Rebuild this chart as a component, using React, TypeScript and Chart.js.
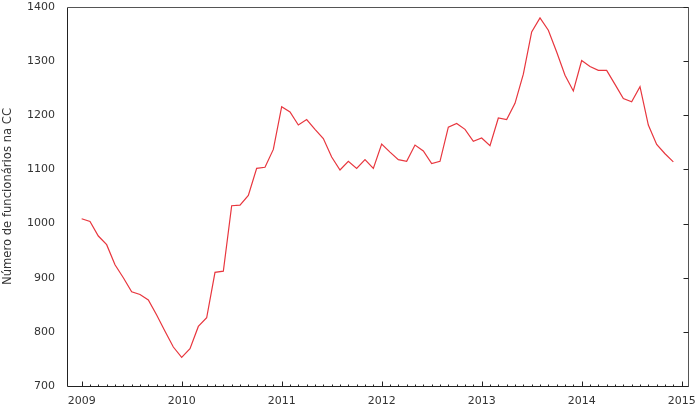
import React, { useEffect, useRef } from "react";
import { Chart, registerables } from "chart.js";

Chart.register(...registerables);

const years: string[] = ["2009", "2010", "2011", "2012", "2013", "2014", "2015"];
const values2009: number[] = [1009, 1004, 977, 961, 924, 900, 874, 869, 859, 831, 801, 772];
const values2010: number[] = [753, 769, 810, 826, 910, 912, 1033, 1034, 1052, 1102, 1104, 1137];
const values2011: number[] = [1216, 1206, 1182, 1192, 1174, 1157, 1123, 1099, 1115, 1102, 1118, 1102];
const values2012: number[] = [1147, 1132, 1118, 1115, 1145, 1134, 1111, 1115, 1178, 1185, 1174, 1152];
const values2013: number[] = [1158, 1144, 1195, 1192, 1222, 1276, 1354, 1380, 1357, 1317, 1274, 1245];
const values2014: number[] = [1301, 1290, 1283, 1283, 1257, 1231, 1225, 1253, 1182, 1146, 1129, 1114];
const yTicks: number[] = [700, 800, 900, 1000, 1100, 1200, 1300, 1400];
const yTitle = "Número de funcionários na CC";

const FONT = "'DejaVu Sans', Verdana, sans-serif";
const TEXT = "#333333";
const LINE = "#e8363e";

const framePlugin = {
  id: "frame",
  afterDatasetsDraw(chart: any) {
    const { ctx, chartArea } = chart;
    const xs = chart.scales.x;
    const ys = chart.scales.y;
    const l = Math.round(chartArea.left) + 0.5;
    const r = Math.round(chartArea.right) + 0.5;
    const t = Math.round(chartArea.top) + 0.5;
    const b = Math.round(chartArea.bottom) + 0.5;
    ctx.save();
    ctx.lineWidth = 1;
    ctx.strokeStyle = "#222222";
    ctx.beginPath();
    ctx.moveTo(l, t);
    ctx.lineTo(l, b);
    ctx.lineTo(r, b);
    ctx.stroke();
    ctx.strokeStyle = "#555555";
    ctx.beginPath();
    ctx.moveTo(l, t);
    ctx.lineTo(r, t);
    ctx.lineTo(r, b);
    ctx.stroke();
    ctx.strokeStyle = "#222222";
    ctx.beginPath();
    const total = (years.length - 1) * 12;
    for (let m = 0; m <= total; m++) {
      const px = Math.round(xs.getPixelForValue(m)) + 0.5;
      const len = m % 12 === 0 ? 5 : 2;
      ctx.moveTo(px, b);
      ctx.lineTo(px, b - len);
    }
    for (const v of yTicks) {
      const py = Math.round(ys.getPixelForValue(v)) + 0.5;
      ctx.moveTo(r, py);
      ctx.lineTo(r - 5, py);
    }
    ctx.stroke();
    ctx.restore();
  },
};

export default function App() {
  const ref = useRef<HTMLCanvasElement | null>(null);
  useEffect(() => {
    document.body.style.margin = "0";
    const all = [...values2009, ...values2010, ...values2011, ...values2012, ...values2013, ...values2014];
    const data = all.map((v, i) => ({ x: i, y: v }));
    const chart = new Chart(ref.current as HTMLCanvasElement, {
      type: "line",
      data: {
        datasets: [
          {
            data,
            borderColor: LINE,
            borderWidth: 1.2,
            pointRadius: 0,
            tension: 0,
            fill: false,
          },
        ],
      },
      options: {
        animation: false,
        responsive: false,
        layout: { padding: { top: 7, right: 12, left: 0, bottom: 0 } },
        plugins: { legend: { display: false }, tooltip: { enabled: false } },
        scales: {
          x: {
            type: "linear",
            min: -1.76,
            max: 72.76,
            border: { display: false },
            grid: { display: false, drawTicks: false },
            afterBuildTicks: (scale: any) => {
              scale.ticks = years.map((_, i) => ({ value: i * 12 }));
            },
            afterFit: (scale: any) => {
              scale.height = 24;
              scale.paddingLeft = 0;
              scale.paddingRight = 0;
            },
            ticks: {
              autoSkip: false,
              maxRotation: 0,
              padding: 9,
              color: TEXT,
              font: { family: FONT, size: 11 },
              callback: (v: any) => years[Math.round(Number(v) / 12)] ?? "",
            },
          },
          y: {
            min: 700,
            max: 1400,
            border: { display: false },
            grid: { display: false, drawTicks: false },
            afterBuildTicks: (scale: any) => {
              scale.ticks = yTicks.map((v) => ({ value: v }));
            },
            afterFit: (scale: any) => {
              scale.width = 67;
              scale.paddingTop = 0;
              scale.paddingBottom = 0;
            },
            ticks: {
              padding: 12,
              color: TEXT,
              font: { family: FONT, size: 11 },
              callback: (v: any) => String(v),
            },
            title: {
              display: true,
              text: yTitle,
              color: TEXT,
              padding: { top: 1, bottom: 0 },
              font: { family: FONT, size: 11.6 },
            },
          },
        },
      },
      plugins: [framePlugin],
    });
    return () => chart.destroy();
  }, []);
  return (
    <div style={{ width: 700, height: 410, background: "#fff" }}>
      <canvas ref={ref} width={700} height={410} />
    </div>
  );
}
